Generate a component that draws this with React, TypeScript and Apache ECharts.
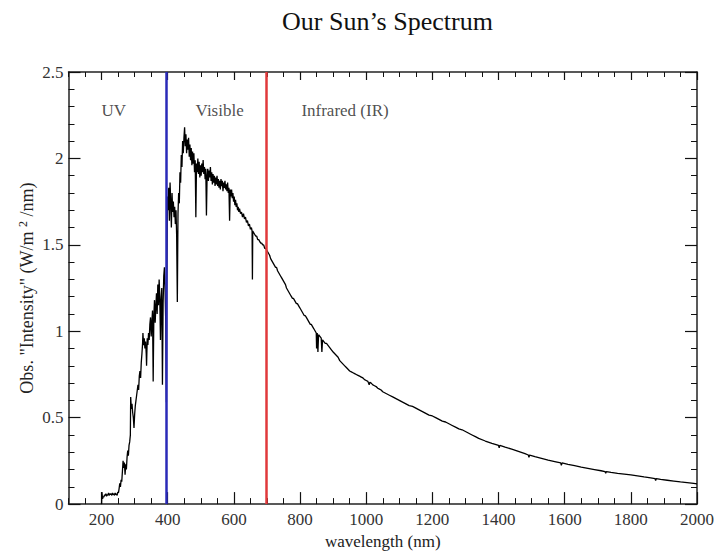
import React, { useEffect, useRef } from "react";
import * as echarts from "echarts";

const uvSpectrum: [number, number][] = [
  [200,0.0],[201,0.07],[203,0.03],[205,0.045],[207,0.04],[209,0.055],[211,0.05],[213,0.06],[215,0.045],[217,0.055],
  [219,0.05],[221,0.065],[223,0.05],[225,0.06],[227,0.055],[229,0.06],[231,0.05],[233,0.065],[235,0.055],[237,0.06],
  [239,0.05],[241,0.065],[243,0.055],[245,0.06],[247,0.05],[249,0.07],[251,0.065],[253,0.09],[255,0.12],[257,0.10],
  [259,0.14],[261,0.13],[263,0.19],[265,0.25],[267,0.21],[269,0.24],[271,0.17],[273,0.23],[275,0.20],[277,0.27],
  [279,0.31],[281,0.28],[283,0.34],[285,0.36],[287,0.40],[288,0.62],[290,0.55],[292,0.58],[294,0.53],[296,0.50],
  [298,0.44],[300,0.52],[302,0.57],[304,0.60],[306,0.63],[308,0.66],[310,0.69],[312,0.66],[314,0.74],[316,0.77],
  [318,0.73],[320,0.82],[322,0.87],[324,0.93],[325,0.99],[327,0.92],[329,0.96],[331,0.90],[333,0.94],[335,0.87],
  [336,0.80],[338,0.96],[340,0.92],[342,0.99],[344,0.95],[346,1.04],[348,1.08],[350,0.97],[352,1.05],[354,1.12],
  [356,0.71],[358,1.09],[360,1.18],[362,1.05],[364,1.14],[366,1.22],[368,1.10],[370,1.27],[372,1.15],[374,1.30],
  [376,1.20],[378,0.95],[380,1.18],[382,1.25],[384,0.69],[386,1.16],[388,1.32],[390,1.37],[392,1.24],[394,1.05],
  [396,0.59],[397,1.22]
];

const visibleSpectrum: [number, number][] = [
  [399,1.78],[401,1.70],[403,1.83],[405,1.64],[407,1.86],[409,1.75],[411,1.60],[413,1.80],[415,1.69],[417,1.75],
  [419,1.66],[421,1.72],[423,1.62],[425,1.70],[427,1.55],[429,1.17],[431,1.68],[433,1.80],[435,1.74],[437,1.92],
  [439,1.86],[441,2.02],[443,1.95],[445,2.10],[447,2.03],[449,2.12],[451,2.18],[453,2.07],[455,2.14],[457,2.03],
  [459,2.11],[461,2.05],[463,2.12],[465,2.01],[467,2.08],[469,1.99],[471,2.06],[473,1.96],[475,2.04],[477,1.97],
  [479,2.03],[481,1.92],[483,1.99],[485,1.66],[487,1.97],[489,1.92],[491,2.00],[493,1.91],[495,1.98],[497,1.89],
  [499,1.96],[501,1.90],[503,1.97],[505,1.92],[507,1.99],[509,1.91],[511,1.95],[513,1.88],[515,1.94],[517,1.67],
  [519,1.90],[521,1.94],[523,1.87],[525,1.93],[527,1.89],[529,1.95],[531,1.87],[533,1.92],[535,1.85],[537,1.91],
  [539,1.86],[541,1.90],[543,1.84],[545,1.89],[547,1.85],[549,1.90],[551,1.84],[553,1.88],[555,1.83],[557,1.87],
  [559,1.82],[561,1.88],[563,1.84],[565,1.87],[567,1.81],[569,1.86],[571,1.83],[573,1.87],[575,1.82],[577,1.85],
  [579,1.81],[581,1.86],[583,1.80],[585,1.83],[587,1.64],[589,1.82],[591,1.78],[593,1.82],[595,1.77],[597,1.80],
  [599,1.75],[601,1.78],[603,1.73],[605,1.76],[607,1.72],[609,1.74],[611,1.70],[613,1.72],[615,1.69],[617,1.71],
  [620,1.68],[623,1.69],[626,1.66],[629,1.68],[632,1.65],[635,1.66],[638,1.63],[641,1.64],[644,1.61],[647,1.62],
  [650,1.59],[653,1.60],[655,1.58],[656,1.30],[657,1.58],[660,1.57],[663,1.56],[666,1.55],[669,1.55],[672,1.53],
  [675,1.53],[678,1.52],[681,1.51],[684,1.51],[687,1.50],[690,1.50],[693,1.48],[696,1.48]
];

const infraredSpectrum: [number, number][] = [
  [699,1.47],[702,1.46],[705,1.45],[708,1.44],[711,1.42],[714,1.41],[717,1.40],[720,1.39],[723,1.38],[726,1.37],
  [729,1.37],[732,1.35],[735,1.34],[738,1.33],[741,1.32],[744,1.31],[747,1.30],[750,1.29],[753,1.28],[756,1.27],
  [759,1.25],[762,1.24],[765,1.23],[768,1.22],[771,1.21],[774,1.20],[777,1.19],[780,1.19],[783,1.18],[786,1.17],
  [789,1.16],[792,1.16],[795,1.15],[798,1.14],[801,1.13],[804,1.12],[807,1.11],[810,1.10],[813,1.09],[816,1.09],
  [819,1.08],[822,1.07],[825,1.06],[828,1.05],[831,1.04],[834,1.04],[837,1.03],[840,1.02],[843,1.01],[846,1.00],
  [849,0.99],[850,0.90],[852,0.99],[854,0.88],[856,0.98],[860,0.97],[864,0.96],[866,0.88],[868,0.95],[872,0.94],
  [876,0.93],[880,0.93],[884,0.92],[888,0.91],[892,0.90],[896,0.89],[900,0.88],[905,0.87],[910,0.86],[915,0.85],
  [920,0.83],[925,0.82],[930,0.81],[935,0.80],[940,0.79],[945,0.78],[950,0.77],[955,0.765],[960,0.76],[965,0.755],
  [970,0.75],[975,0.745],[980,0.74],[985,0.735],[990,0.73],[995,0.72],[1000,0.715],[1005,0.71],[1009,0.69],[1011,0.705],
  [1015,0.70],[1020,0.69],[1025,0.685],[1030,0.68],[1035,0.67],[1040,0.665],[1045,0.66],[1050,0.65],[1060,0.64],[1070,0.63],
  [1080,0.62],[1090,0.61],[1100,0.60],[1110,0.59],[1120,0.58],[1130,0.57],[1140,0.565],[1150,0.555],[1160,0.545],[1170,0.535],
  [1180,0.525],[1190,0.515],[1200,0.51],[1210,0.50],[1220,0.49],[1230,0.48],[1240,0.475],[1250,0.465],[1260,0.455],[1270,0.445],
  [1280,0.435],[1290,0.43],[1300,0.42],[1310,0.41],[1320,0.40],[1330,0.39],[1340,0.38],[1360,0.365],[1380,0.352],[1400,0.34],
  [1402,0.325],[1404,0.34],[1420,0.33],[1440,0.318],[1460,0.305],[1480,0.292],[1490,0.284],[1492,0.27],[1494,0.284],[1510,0.275],
  [1530,0.265],[1550,0.255],[1570,0.246],[1588,0.238],[1590,0.225],[1592,0.238],[1610,0.23],[1630,0.222],[1650,0.214],[1670,0.207],
  [1690,0.2],[1710,0.193],[1722,0.188],[1724,0.178],[1726,0.188],[1740,0.183],[1760,0.178],[1780,0.174],[1800,0.169],[1820,0.163],
  [1840,0.157],[1860,0.152],[1873,0.148],[1875,0.137],[1877,0.148],[1890,0.143],[1910,0.138],[1930,0.133],[1950,0.128],[1970,0.124],
  [1990,0.12],[2000,0.117]
];

const xMajorTicks = [200, 400, 600, 800, 1000, 1200, 1400, 1600, 1800, 2000];
const regionNames = ["UV", "Visible", "Infrared (IR)"];
const regionLabelX = [237, 557, 936];
const regionLabelY = 2.28;
const uvVisibleBoundary = 396;
const visibleIrBoundary = 697;

const SERIF = "'Liberation Serif', 'DejaVu Serif', serif";

export default function App() {
  const ref = useRef<HTMLDivElement>(null);
  useEffect(() => {
    document.body.style.margin = "0";
    if (!ref.current) return;
    const chart = echarts.init(ref.current, undefined, { renderer: "svg" });
    const axisLine = { show: true, lineStyle: { color: "#222", width: 1.5 } };
    const baseX = { type: "value" as const, min: 100, max: 2000, splitLine: { show: false }, gridIndex: 0 };
    const baseY = { type: "value" as const, min: 0, max: 2.5, interval: 0.5, splitLine: { show: false }, gridIndex: 0 };
    chart.setOption({
      animation: false,
      backgroundColor: "#fff",
      title: {
        text: "Our Sun\u2019s Spectrum",
        left: 277,
        top: 3,
        textStyle: { fontFamily: SERIF, fontSize: 26, fontWeight: "normal", color: "#111" },
      },
      grid: { left: 68.5, right: 18, top: 72, bottom: 43.3, containLabel: false },
      xAxis: [
        {
          ...baseX,
          position: "bottom",
          axisLine,
          axisTick: { show: true, inside: true, length: 12, customValues: xMajorTicks, lineStyle: { color: "#111", width: 1.2 } },
          axisLabel: {
            customValues: xMajorTicks,
            formatter: (v: number) => String(v),
            fontFamily: SERIF,
            fontSize: 17,
            color: "#333",
            margin: 7,
          },
          name: "wavelength (nm)",
          nameLocation: "middle",
          nameGap: 22,
          nameTextStyle: { fontFamily: SERIF, fontSize: 17, color: "#222" },
        },
        {
          ...baseX,
          position: "bottom",
          interval: 50,
          axisLine: { show: false },
          axisTick: { show: true, inside: true, length: 6, lineStyle: { color: "#111" } },
          axisLabel: { show: false },
        },
        {
          ...baseX,
          position: "top",
          axisLine,
          axisTick: { show: true, inside: true, length: 8, customValues: xMajorTicks, lineStyle: { color: "#111", width: 1.2 } },
          axisLabel: { show: false },
        },
        {
          ...baseX,
          position: "top",
          interval: 50,
          axisLine: { show: false },
          axisTick: { show: true, inside: true, length: 5, lineStyle: { color: "#111" } },
          axisLabel: { show: false },
        },
      ],
      yAxis: [
        {
          ...baseY,
          position: "left",
          axisLine,
          axisTick: { show: true, inside: true, length: 12, lineStyle: { color: "#111", width: 1.2 } },
          minorTick: { show: true, splitNumber: 5, length: 6, lineStyle: { color: "#111" } },
          axisLabel: { fontFamily: SERIF, fontSize: 17, color: "#333", margin: 5 },
          name: "Obs. \"Intensity\" (W/m {sup|2} /nm)",
          nameLocation: "middle",
          nameGap: 31,
          nameMoveOverlap: false,
          nameTextStyle: {
            fontFamily: SERIF,
            fontSize: 18,
            color: "#222",
            rich: {
              sup: { fontFamily: SERIF, fontSize: 12, color: "#222", verticalAlign: "top", padding: [0, 0, 9, 0] },
            },
          },
        },
        {
          ...baseY,
          position: "right",
          axisLine,
          axisTick: { show: true, inside: true, length: 12, lineStyle: { color: "#111", width: 1.2 } },
          minorTick: { show: true, splitNumber: 5, length: 6, lineStyle: { color: "#111" } },
          axisLabel: { show: false },
        },
      ],
      series: [
        {
          type: "line",
          xAxisIndex: 0,
          yAxisIndex: 0,
          data: [...uvSpectrum, ...visibleSpectrum, ...infraredSpectrum],
          showSymbol: false,
          symbol: "none",
          lineStyle: { color: "#000", width: 1.3 },
          z: 3,
          markLine: {
            silent: true,
            symbol: ["none", "none"],
            label: { show: false },
            z: 4,
            data: [
              { xAxis: uvVisibleBoundary, lineStyle: { color: "#2a2ab8", width: 2.5, type: "solid" } },
              { xAxis: visibleIrBoundary, lineStyle: { color: "#e0393b", width: 2.5, type: "solid" } },
            ],
          },
        },
        {
          type: "scatter",
          xAxisIndex: 0,
          yAxisIndex: 0,
          symbolSize: 0,
          silent: true,
          data: regionLabelX.map((x, i) => ({
            value: [x, regionLabelY],
            label: { formatter: regionNames[i] },
          })),
          label: {
            show: true,
            position: "inside",
            fontFamily: SERIF,
            fontSize: 17,
            color: "#222",
          },
        },
      ],
    });
    return () => chart.dispose();
  }, []);
  return <div ref={ref} style={{ width: 717, height: 555 }} />;
}
